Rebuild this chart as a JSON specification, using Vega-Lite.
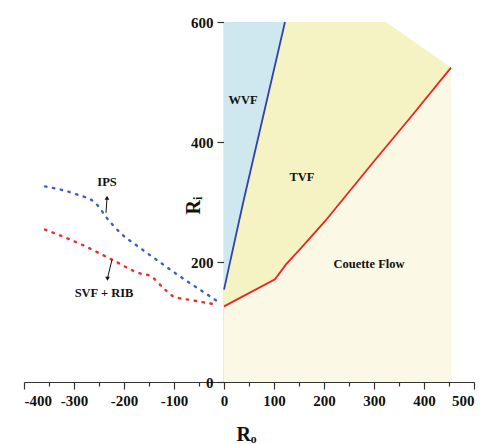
{
  "$schema": "https://vega.github.io/schema/vega-lite/v6.json",
  "width": 450,
  "height": 360,
  "autosize": {"type": "none"},
  "padding": {"left": 24, "top": 22, "right": 13, "bottom": 62},
  "background": "white",
  "config": {
    "view": {"stroke": null},
    "font": "Liberation Serif",
    "axis": {
      "labelFont": "Liberation Serif", "labelFontWeight": "bold", "labelFontSize": 15, "labelColor": "#111",
      "titleFont": "Liberation Serif", "titleFontWeight": "bold", "titleColor": "#111",
      "domainColor": "#333", "tickColor": "#333", "grid": false, "domainWidth": 1.2, "tickWidth": 1.2
    }
  },
  "datasets": {
    "tvf": [{"x": 0, "y": 600}, {"x": 324, "y": 600}, {"x": 454, "y": 524}],
    "red": [{"x": 0, "y": 126}, {"x": 102, "y": 171}, {"x": 124, "y": 196}, {"x": 154, "y": 223}, {"x": 202, "y": 268}, {"x": 300, "y": 368}, {"x": 372, "y": 440}, {"x": 454, "y": 524}],
    "blue": [{"x": 0, "y": 154}, {"x": 38, "y": 298}, {"x": 122, "y": 600}],
    "ips": [{"x": -358, "y": 326}, {"x": -296, "y": 313}, {"x": -258, "y": 299}, {"x": -232, "y": 271}, {"x": -204, "y": 246}, {"x": -172, "y": 226}, {"x": -122, "y": 196}, {"x": -88, "y": 176}, {"x": -52, "y": 156}, {"x": -14, "y": 135}],
    "svf": [{"x": -358, "y": 254}, {"x": -282, "y": 228}, {"x": -224, "y": 204}, {"x": -168, "y": 181}, {"x": -148, "y": 177}, {"x": -118, "y": 154}, {"x": -102, "y": 143}, {"x": -62, "y": 136}, {"x": -22, "y": 130}],
    "labels": [{"x": 38, "y": 470, "label": "WVF"}, {"x": 156, "y": 341, "label": "TVF"}, {"x": 290, "y": 196, "label": "Couette Flow"}, {"x": -234, "y": 333, "label": "IPS"}, {"x": -240, "y": 149, "label": "SVF + RIB"}],
    "arrows": [{"x": -236, "y": 282, "x2": -234, "y2": 306}, {"x": -224, "y": 204, "x2": -233, "y2": 173}],
    "headUp": [{"x": -234, "y": 307}],
    "headDown": [{"x": -233, "y": 172}]
  },
  "encoding": {
    "x": {"field": "x", "type": "quantitative", "scale": {"domain": [-400, 500], "nice": false, "zero": false}, "axis": null},
    "y": {"field": "y", "type": "quantitative", "scale": {"domain": [0, 600], "nice": false}, "axis": null}
  },
  "layer": [
    {
      "data": {"name": "tvf"},
      "mark": {"type": "area", "color": "#f5f3c4", "opacity": 1},
      "encoding": {
        "x": {"field": "x", "type": "quantitative", "scale": {"domain": [-400, 500], "nice": false, "zero": false},
          "axis": {"orient": "bottom", "values": [-400, -300, -200, -100, 0, 100, 200, 300, 400, 500], "labelExpr": "datum.value < 0 ? '-' + abs(datum.value) : datum.label", "tickSize": 7, "labelPadding": 4, "title": "Rₒ", "titleFontSize": 20, "titleY": 52, "titleX": 222, "titleBaseline": "middle", "titleAlign": "center"}},
        "y": {"field": "y", "type": "quantitative", "scale": {"domain": [0, 600], "nice": false},
          "axis": {"orient": "left", "offset": -200, "values": [0, 200, 400, 600], "tickSize": 7, "labelPadding": 4, "title": "Rᵢ", "titleFontSize": 20, "titleX": -31, "titleY": 183, "titleAngle": -90, "titleAlign": "center", "titleBaseline": "middle"}},
        "y2": {"datum": 0}
      }
    },
    {
      "data": {"name": "red"},
      "mark": {"type": "area", "color": "#fbf8e6", "opacity": 1},
      "encoding": {
        "x": {"field": "x", "type": "quantitative", "scale": {"domain": [-400, 500], "nice": false, "zero": false},
          "axis": {"orient": "bottom", "values": [-350, -250, -150, -50, 50, 150, 250, 350, 450], "tickSize": 4, "labels": false, "domain": false, "title": null}},
        "y2": {"datum": 0}
      }
    },
    {
      "data": {"name": "blue"},
      "mark": {"type": "area", "color": "#cfe8ef", "opacity": 1},
      "encoding": {"y2": {"datum": 600}}
    },
    {
      "data": {"name": "blue"},
      "mark": {"type": "line", "color": "#2f45a8", "strokeWidth": 1.8}
    },
    {
      "data": {"name": "red"},
      "mark": {"type": "line", "color": "#ee2222", "strokeWidth": 1.8}
    },
    {
      "data": {"name": "ips"},
      "mark": {"type": "line", "color": "#3d5fc4", "strokeWidth": 2.4, "strokeDash": [1.5, 6.5], "strokeCap": "round", "interpolate": "monotone"}
    },
    {
      "data": {"name": "svf"},
      "mark": {"type": "line", "color": "#ee2a2a", "strokeWidth": 2.4, "strokeDash": [1.5, 6.5], "strokeCap": "round", "interpolate": "monotone"}
    },
    {
      "data": {"name": "arrows"},
      "mark": {"type": "rule", "color": "#111", "strokeWidth": 1},
      "encoding": {"x2": {"field": "x2"}, "y2": {"field": "y2"}}
    },
    {
      "data": {"name": "headUp"},
      "mark": {"type": "point", "shape": "triangle-up", "filled": true, "color": "#111", "size": 22, "opacity": 1}
    },
    {
      "data": {"name": "headDown"},
      "mark": {"type": "point", "shape": "triangle-down", "filled": true, "color": "#111", "size": 22, "opacity": 1}
    },
    {
      "data": {"name": "labels"},
      "mark": {"type": "text", "font": "Liberation Serif", "fontWeight": "bold", "fontSize": 12.5, "color": "#111", "align": "center", "baseline": "middle"},
      "encoding": {"text": {"field": "label"}}
    }
  ],
  "resolve": {"axis": {"x": "independent", "y": "independent"}}
}
